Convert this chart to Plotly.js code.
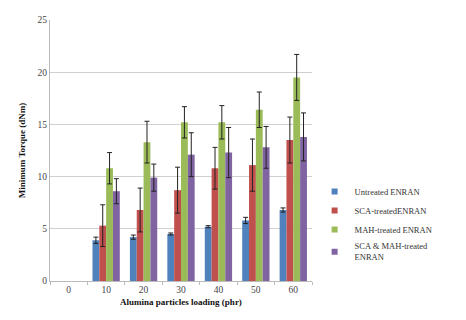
<!DOCTYPE html>
<html><head><meta charset="utf-8">
<script src="https://cdn.plot.ly/plotly-3.0.1.min.js"></script>
<style>html,body{margin:0;padding:0;background:#fff}#c{width:466px;height:320px}</style>
</head><body><div id="c"></div>
<script>
const categories = ["0","10","20","30","40","50","60"];
const seriesNames = ["Untreated ENRAN","SCA-treatedENRAN","MAH-treated ENRAN","SCA &amp; MAH-treated<br>ENRAN"];
const untreated = [null,3.9,4.2,4.5,5.2,5.8,6.8];
const untreatedErr = [null,0.3,0.2,0.1,0.1,0.3,0.2];
const scaTreated = [null,5.3,6.8,8.7,10.8,11.1,13.5];
const scaErr = [null,2.0,2.1,2.2,2.0,2.5,2.2];
const mahTreated = [null,10.8,13.3,15.2,15.2,16.4,19.5];
const mahErr = [null,1.5,2.0,1.5,1.6,1.7,2.2];
const bothTreated = [null,8.6,9.9,12.1,12.3,12.8,13.8];
const bothErr = [null,1.2,1.3,2.1,2.4,2.0,2.3];
const colors = ["#4F81BD","#C0504D","#9BBB59","#8064A2"];
const vals = [untreated,scaTreated,mahTreated,bothTreated];
const errs = [untreatedErr,scaErr,mahErr,bothErr];
const traces = vals.map((v,i)=>({
  type:'bar', x:categories, y:v, name:seriesNames[i], showlegend:false,
  marker:{color:colors[i]},
  error_y:{type:'data', array:errs[i], visible:true, color:'#222', thickness:1, width:2.5}
}));
// legend entries with small square swatches
vals.forEach((v,i)=>traces.push({
  type:'scatter', mode:'markers', x:[null], y:[null], name:seriesNames[i],
  marker:{symbol:'square', size:6, color:colors[i]}
}));
const serif = "Liberation Serif, Times New Roman, serif";
Plotly.newPlot('c', traces, {
  width:466, height:320,
  margin:{l:50,r:154,t:20,b:39},
  paper_bgcolor:'#fff', plot_bgcolor:'#fff',
  barmode:'group', bargap:0.27, bargroupgap:0,
  font:{family:serif, size:9, color:'#444'},
  xaxis:{type:'category', showline:true, linecolor:'#bbb', linewidth:1,
    ticks:'outside', ticklen:3, tickcolor:'#bbb', tickson:'boundaries',
    tickfont:{family:serif,size:9.5,color:'#444'},
    title:{text:'<b>Alumina particles loading (phr)</b>', font:{family:serif,size:9,color:'#111'}, standoff:4}},
  yaxis:{range:[0,25], dtick:5, showgrid:true, gridcolor:'#d0d0d0', zeroline:false,
    showline:true, linecolor:'#bbb', linewidth:1,
    tickfont:{family:serif,size:9.5,color:'#444'},
    title:{text:'<b>Minimum Torque (dNm)</b>', font:{family:serif,size:9,color:'#111'}, standoff:10}},
  legend:{x:1.01, y:0.22, xanchor:'left', yanchor:'middle', font:{family:serif,size:8.5,color:'#333'},
    itemwidth:30},
  showlegend:true
}, {displayModeBar:false, staticPlot:true});
</script></body></html>
